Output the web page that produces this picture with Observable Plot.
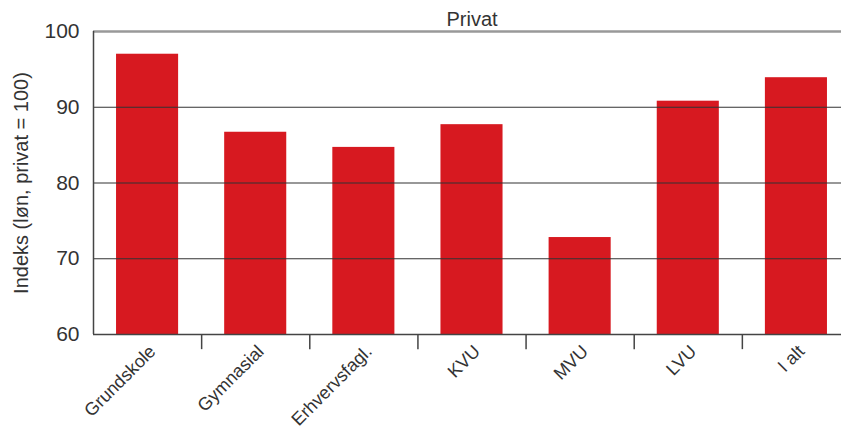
<!DOCTYPE html>
<html><head><meta charset="utf-8">
<script src="https://cdn.jsdelivr.net/npm/d3@7"></script>
<script src="https://cdn.jsdelivr.net/npm/@observablehq/plot@0.6"></script>
<style>body{margin:0;background:#fff}</style>
</head><body><div id="chart"></div>
<script>
const categories = ["Grundskole","Gymnasial","Erhvervsfagl.","KVU","MVU","LVU","I alt"];
const values = [97.0, 86.7, 84.7, 87.7, 72.8, 90.8, 93.9];
const yTicks = [60, 70, 80, 90, 100];
const panelTitle = "Privat";
const yLabel = "Indeks (løn, privat = 100)";

const pad = 0.213;
const data = categories.map((c, i) => ({c, i, v: values[i]}));
const font = "Liberation Sans, Arial, sans-serif";

const chart = Plot.plot({
  width: 841, height: 430,
  marginLeft: 93, marginRight: 0, marginTop: 31, marginBottom: 96,
  style: {fontFamily: font, color: "#333", background: "#fff"},
  x: {domain: [0, categories.length], range: [93, 850], axis: null},
  y: {domain: [60, 100], axis: null},
  marks: [
    Plot.rectY(data, {x1: d => d.i + pad, x2: d => d.i + 1 - pad, y1: 60, y2: "v", fill: "#d71920"}),
    Plot.ruleY([70, 80, 90], {x1: 0, x2: categories.length, stroke: "#333", strokeWidth: 1.2}),
    Plot.ruleY([60], {x1: 0, x2: categories.length, stroke: "#444", strokeWidth: 1.5}),
    Plot.ruleY([100], {x1: 0, x2: categories.length, stroke: "#999", strokeWidth: 2.5}),
    Plot.ruleX([0], {stroke: "#444", strokeWidth: 1.5}),
    Plot.ruleX(d3.range(1, categories.length), {y1: 60, y2: 58, stroke: "#444", strokeWidth: 1.5}),
    Plot.text(yTicks, {x: 0, y: d => d, text: d => String(d), textAnchor: "end", dx: -14, fontSize: 21, fill: "#333"}),
    Plot.text(data, {x: d => d.i + 0.5, y: 60, text: "c", rotate: -45, textAnchor: "end", dx: 5, dy: 14, fontSize: 18, fill: "#333"}),
    Plot.text([panelTitle], {x: categories.length / 2, y: 100, text: d => d, dy: -12, fontSize: 20, fill: "#333"}),
    Plot.text([yLabel], {x: 0, y: 80, text: d => d, rotate: -90, dx: -72, fontSize: 20, fill: "#333"})
  ]
});
document.getElementById("chart").append(chart);
</script>
</body></html>
